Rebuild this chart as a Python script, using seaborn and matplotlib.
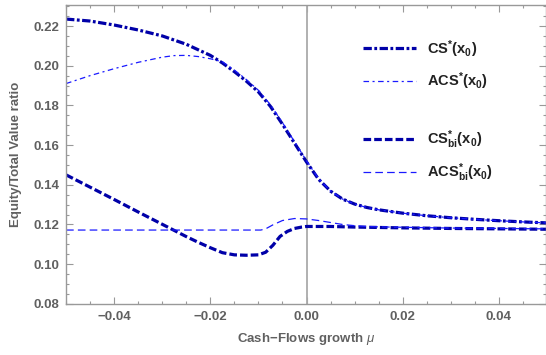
import numpy as np
import pandas as pd
import matplotlib
matplotlib.use("Agg")
import matplotlib.pyplot as plt
import seaborn as sns
from matplotlib.ticker import MultipleLocator, FuncFormatter
from matplotlib.lines import Line2D

# values
cs_x = [-0.05, -0.045, -0.04, -0.035, -0.03, -0.025, -0.02, -0.0175, -0.015, -0.0125,
        -0.01, -0.0075, -0.005, -0.0025, 0.0, 0.0025, 0.005, 0.0075, 0.01, 0.0125, 0.015,
        0.02, 0.025, 0.03, 0.035, 0.04, 0.045, 0.05]
cs_y = [0.2235, 0.2225, 0.2205, 0.2180, 0.2150, 0.2108, 0.2052, 0.2014, 0.1970, 0.1922,
        0.1868, 0.1795, 0.1705, 0.1610, 0.1515, 0.1428, 0.1368, 0.1328, 0.1303, 0.1286, 0.1274,
        0.1257, 0.1244, 0.1234, 0.1226, 0.1219, 0.1213, 0.1208]

acs_x = [-0.05, -0.045, -0.04, -0.035, -0.03, -0.0275, -0.025, -0.0225, -0.02, -0.0175,
         -0.015, -0.0125, -0.01, -0.0075, -0.005, -0.0025, 0.0, 0.0025, 0.005, 0.0075,
         0.01, 0.0125, 0.015, 0.02, 0.025, 0.03, 0.035, 0.04, 0.045, 0.05]
acs_y = [0.1910, 0.1950, 0.1985, 0.2017, 0.2043, 0.2051, 0.2052, 0.2046, 0.2035, 0.2020,
         0.1978, 0.1930, 0.1876, 0.1803, 0.1713, 0.1617, 0.1521, 0.1431, 0.1369, 0.1328,
         0.1303, 0.1286, 0.1274, 0.1257, 0.1244, 0.1234, 0.1226, 0.1219, 0.1213, 0.1208]

csbi_x = [-0.05, -0.045, -0.04, -0.035, -0.03, -0.025, -0.0225, -0.02, -0.0175, -0.015,
          -0.0125, -0.01, -0.0085, -0.007, -0.0055, -0.004, -0.0025, -0.001, 0.0, 0.005,
          0.01, 0.02, 0.03, 0.04, 0.05]
csbi_y = [0.1450, 0.1388, 0.1326, 0.1263, 0.1201, 0.1139, 0.1110, 0.1083, 0.1058, 0.1047,
          0.1045, 0.1047, 0.1060, 0.1095, 0.1140, 0.1165, 0.1180, 0.1187, 0.1190, 0.1190,
          0.1187, 0.1183, 0.1180, 0.1178, 0.1176]

acsbi_x = [-0.05, -0.03, -0.0095, -0.0085, -0.007, -0.005, -0.0025, 0.0, 0.0025, 0.005,
           0.0075, 0.01, 0.0125, 0.015, 0.02, 0.03, 0.04, 0.05]
acsbi_y = [0.1172, 0.1172, 0.1172, 0.1178, 0.1198, 0.1220, 0.1230, 0.1228, 0.1220, 0.1210,
           0.1200, 0.1194, 0.1190, 0.1188, 0.1186, 0.1182, 0.1180, 0.1178]

labels = [r"$\mathbf{CS^{*}(x_{0})}$", r"$\mathbf{ACS^{*}(x_{0})}$",
          r"$\mathbf{CS^{*}_{bi}(x_{0})}$", r"$\mathbf{ACS^{*}_{bi}(x_{0})}$"]

sns.set_style("ticks")
plt.rcParams["font.family"] = ["Liberation Sans", "DejaVu Sans"]
plt.rcParams["mathtext.fontset"] = "custom"
plt.rcParams["mathtext.rm"] = "Liberation Sans:bold"
plt.rcParams["mathtext.bf"] = "Liberation Sans:bold"
plt.rcParams["mathtext.it"] = "Liberation Sans:italic"
plt.rcParams["lines.scale_dashes"] = False

dark = "#0000a8"
light = "#1a1aff"
gray = "#999999"

fig = plt.figure(figsize=(5.46, 3.55), dpi=100)
ax = fig.add_axes([0.121, 0.144, 0.879, 0.842])

ax.axvline(0, color="#aaaaaa", lw=1.3, zorder=1)

sns.lineplot(x=cs_x, y=cs_y, ax=ax, color=dark, lw=2.3, ls=(0, (6, 1.8, 2, 1.8)))
sns.lineplot(x=acs_x, y=acs_y, ax=ax, color=light, lw=0.9, ls=(0, (4, 2.5, 1.5, 2.5)))
sns.lineplot(x=csbi_x, y=csbi_y, ax=ax, color=dark, lw=2.3, ls=(0, (5.5, 2.2)))
sns.lineplot(x=acsbi_x, y=acsbi_y, ax=ax, color=light, lw=0.9, ls=(0, (5.5, 3)))

ax.set_xlim(-0.05, 0.0498)
ax.set_ylim(0.08, 0.2306)

ax.xaxis.set_major_locator(MultipleLocator(0.02))
ax.xaxis.set_minor_locator(MultipleLocator(0.005))
ax.yaxis.set_major_locator(MultipleLocator(0.02))
ax.yaxis.set_minor_locator(MultipleLocator(0.005))
fmt = FuncFormatter(lambda v, p: ("%.2f" % v).replace("-", "\u2212"))
ax.xaxis.set_major_formatter(fmt)
ax.yaxis.set_major_formatter(fmt)

ax.tick_params(which="both", direction="in", top=True, right=True, color=gray,
               labelcolor="#606060", labelsize=9.5, width=0.8)
ax.tick_params(which="major", length=5, pad=5)
ax.tick_params(which="minor", length=2.5)
for lab in ax.get_xticklabels() + ax.get_yticklabels():
    lab.set_fontweight("bold")
for s in ax.spines.values():
    s.set_color(gray)
    s.set_linewidth(1.0)

ax.set_xlabel("Cash\u2212Flows growth $\\mu$", fontsize=9.5, fontweight="bold",
              color="#606060", labelpad=6)
ax.set_ylabel("Equity/Total Value ratio", fontsize=9.5, fontweight="bold",
              color="#606060", labelpad=8)

handles = [
    Line2D([], [], color=dark, lw=2.3, ls=(0, (6, 1.8, 2, 1.8))),
    Line2D([], [], color=light, lw=0.9, ls=(0, (4, 2.5, 1.5, 2.5))),
    Line2D([], [], color="none"),
    Line2D([], [], color=dark, lw=2.3, ls=(0, (5.5, 2.2))),
    Line2D([], [], color=light, lw=0.9, ls=(0, (5.5, 3))),
]
leg = ax.legend(handles, [labels[0], labels[1], " ", labels[2], labels[3]],
                loc="upper left", bbox_to_anchor=(363 / 546, 1 - 38 / 355),
                bbox_transform=fig.transFigure, frameon=False, fontsize=10.5,
                handlelength=3.6, handletextpad=0.8, labelspacing=0.75,
                borderpad=0, borderaxespad=0)
for t in leg.get_texts():
    t.set_color("#222222")

fig.savefig("out.png", dpi=100)
